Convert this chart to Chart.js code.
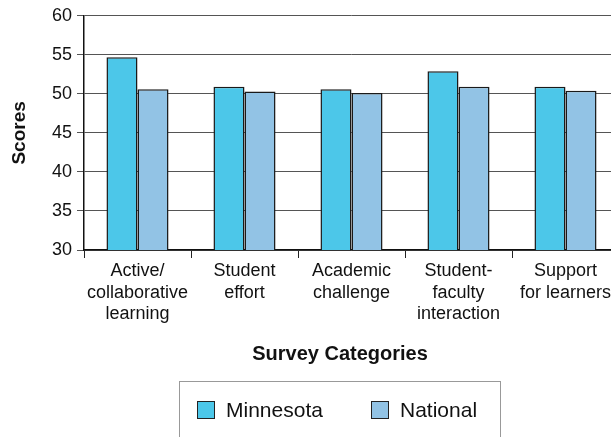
<!DOCTYPE html>
<html>
<head>
<meta charset="utf-8">
<script src="https://cdn.jsdelivr.net/npm/chart.js@4"></script>
<style>
  html, body { margin: 0; padding: 0; background: #fff; overflow: hidden; }
  #wrap { width: 630px; height: 437px; }
</style>
</head>
<body>
<div id="wrap"><canvas id="chart"></canvas></div>
<script>
const categories = [
    ["Active/", "collaborative", "learning"],
    ["Student", "effort"],
    ["Academic", "challenge"],
    ["Student-", "faculty", "interaction"],
    ["Support", "for learners"]
];
const minnesota = [54.7, 50.9, 50.6, 52.9, 50.9];
const national = [50.6, 50.3, 50.1, 50.9, 50.4];
const yTicks = [30, 35, 40, 45, 50, 55, 60];

const FONT = "'Liberation Sans', Arial, sans-serif";

// legend box + x title drawn under the plot
const bottomPlugin = {
    id: "bottomStuff",
    afterDraw(chart) {
        const ctx = chart.ctx;
        ctx.save();
        ctx.fillStyle = "#111";
        ctx.font = "bold 20px " + FONT;
        ctx.textAlign = "center";
        ctx.textBaseline = "middle";
        ctx.fillText("Survey Categories", 340, 354);

        ctx.strokeStyle = "#999";
        ctx.lineWidth = 1;
        ctx.strokeRect(179.5, 381.5, 321, 70);

        const items = [
            { ds: chart.data.datasets[0], x: 197 },
            { ds: chart.data.datasets[1], x: 371 }
        ];
        ctx.font = "21px " + FONT;
        ctx.textAlign = "left";
        items.forEach(it => {
            ctx.fillStyle = it.ds.backgroundColor;
            ctx.fillRect(it.x, 401, 17, 17);
            ctx.strokeStyle = "#222";
            ctx.strokeRect(it.x + 0.5, 401.5, 17, 17);
            ctx.fillStyle = "#111";
            ctx.fillText(it.ds.label, it.x + 29, 411);
        });
        ctx.restore();
    }
};

const ctx = document.getElementById("chart").getContext("2d");
new Chart(ctx, {
    type: "bar",
    data: {
        labels: categories,
        datasets: [
            {
                label: "Minnesota",
                data: minnesota,
                backgroundColor: "#4CC7E9",
                borderColor: "#1a1a1a",
                borderWidth: 1.5,
                categoryPercentage: 0.58,
                barPercentage: 1
            },
            {
                label: "National",
                data: national,
                backgroundColor: "#92C3E5",
                borderColor: "#1a1a1a",
                borderWidth: 1.5,
                categoryPercentage: 0.58,
                barPercentage: 1
            }
        ]
    },
    options: {
        responsive: true,
        maintainAspectRatio: false,
        animation: false,
        layout: { padding: { top: 15, right: 11, bottom: 112, left: 0 } },
        plugins: {
            legend: { display: false },
            tooltip: { enabled: false }
        },
        scales: {
            x: {
                afterFit(scale) { scale.height = 75; },
                grid: {
                    offset: true,
                    drawOnChartArea: false,
                    drawTicks: true,
                    tickLength: 8,
                    color: "#222"
                },
                border: { color: "#111", width: 1.5 },
                ticks: {
                    color: "#111",
                    padding: 3,
                    maxRotation: 0,
                    autoSkip: false,
                    font: { family: FONT, size: 18, lineHeight: 1.17 }
                }
            },
            y: {
                min: 30,
                max: 60,
                afterFit(scale) { scale.width = 84; },
                afterBuildTicks(scale) {
                    scale.ticks = yTicks.map(v => ({ value: v }));
                },
                grid: {
                    color: "#555",
                    lineWidth: 1,
                    tickLength: 7
                },
                border: { color: "#111", width: 1.5 },
                ticks: {
                    color: "#111",
                    padding: 5,
                    font: { family: FONT, size: 18 }
                },
                title: {
                    display: true,
                    text: "Scores",
                    color: "#111",
                    padding: { top: 8, bottom: 0 },
                    font: { family: FONT, size: 19, weight: "bold" }
                }
            }
        }
    },
    plugins: [bottomPlugin]
});
</script>
</body>
</html>
